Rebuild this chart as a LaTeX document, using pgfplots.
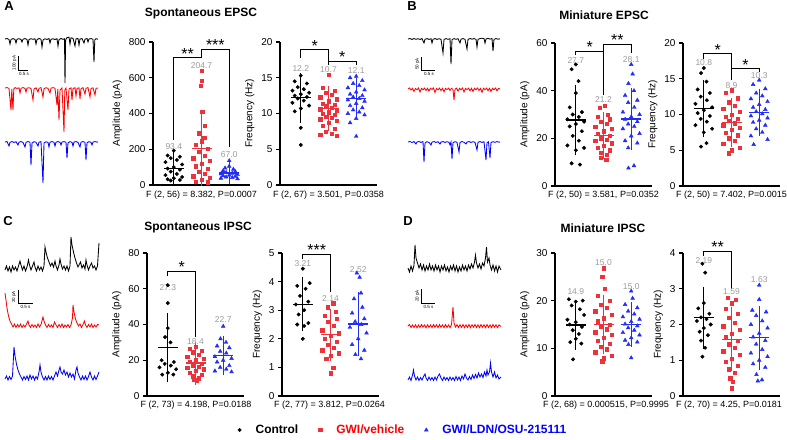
\documentclass[border=0pt]{standalone}
\usepackage{pgfplots}
\pgfplotsset{compat=1.18}
\usepackage{fontspec}
\setmainfont{Liberation Sans}

\definecolor{vehc}{RGB}{237,50,60}
\definecolor{osuc}{RGB}{35,45,250}
\definecolor{lbl}{RGB}{155,155,155}

\pgfplotsset{
  prism/.style={
    scale only axis, width=97pt, height=143pt,
    axis x line*=bottom, axis y line*=left,
    axis line style={-, line width=1.1pt},
    xmin=0.25, xmax=3.75, xtick=\empty, ymin=0,
    tick align=outside, major tick length=4pt,
    every tick/.style={black, line width=1.1pt},
    tick label style={font=\fontsize{10}{12}\selectfont, inner ysep=1pt},
    label style={font=\fontsize{10}{12}\selectfont},
    /pgf/number format/assume math mode=true,
    clip=false,
  },
  ctl/.style={only marks, mark=*, mark size=1.75pt, black},
  veh/.style={only marks, mark=square*, mark size=1.65pt, vehc},
  osu/.style={only marks, mark=triangle*, mark size=2.2pt, osuc},
  msd/.style={mark=-, mark size=10pt, mark options={line width=1.3pt},
    error bars/y dir=both, error bars/y explicit,
    error bars/error mark=-,
    error bars/error mark options={mark size=6.5pt, line width=1.3pt},
    error bars/error bar style={line width=1.3pt}},
  brk/.style={black, line width=1.1pt, no marks},
  trace/.style={line width=0.85pt, no marks},
}
\tikzset{
  star/.style={font=\fontsize{16}{16}\selectfont, inner sep=0pt,
    text depth=-0.4em, anchor=south, yshift=-1.5pt},
  mlab/.style={text=lbl, font=\fontsize{8.5}{9}\selectfont, inner sep=0pt},
}
\newcommand{\msd}[4]{\addplot[#1, msd] coordinates {(#2,#3) +- (0,#4)};}

\begin{document}
\begin{tikzpicture}
\path (0pt,0pt) rectangle (787pt,437pt);

% ---------- traces, titles, captions (pixel frame) ----------
\begin{axis}[at={(0pt,0pt)}, anchor=south west, scale only axis,
  width=787pt, height=437pt, xmin=0, xmax=787, ymin=0, ymax=437,
  y dir=reverse, hide axis, clip=false]
% A
\addplot[trace, black] coordinates {(5,39)(7,38.5)(9,39.5)(10,44)(11,39.5)(13,38.6)(15,39.4)(16,43)(17,39.2)(19,38.7)(21,39.5)(22,42)(23,39.2)(25,38.6)(27,39.4)(28,45)(29,39.5)(31,38.7)(33,39.3)(35,38.8)(36,44)(37,39.6)(39,38.5)(41,39.2)(42,47)(43,40)(45,38.8)(47,39.4)(49,38.6)(50,43)(51,39.3)(53,38.8)(55,39.5)(57,38.7)(58,46)(59,39.6)(61,38.5)(63,39.3)(64.5,38.8)(65,83)(65.6,40)(67,37.6)(69,37.2)(70,44)(71,37.8)(73,38.3)(75,46)(76,38.8)(78,38.5)(79,45)(80,39)(82,38.6)(84,43)(85,39.2)(87,38.5)(88,42)(89,39)(91,38.6)(93,39.3)(94,62)(94.8,39.8)(96,38.7)(98,39.2)};
\addplot[trace, red] coordinates {(5,88)(7,87.5)(9,88.5)(11,110)(11.8,89)(13,110)(13.8,89)(15,87.6)(17,88.4)(19,87.8)(20,93)(21,88.3)(23,87.6)(25,88.4)(26,92)(27,88.2)(29,87.7)(31,88.5)(33,100)(34,89)(36,87.8)(38,92)(39,88.3)(41,87.6)(43,97)(44,88.8)(46,87.7)(48,88.4)(50,93)(51,88.2)(53,87.6)(55,88.3)(57,105)(57.8,89)(59,120)(60,90)(62,88)(64,132)(64.8,90)(66,88)(68,110)(69,89)(71,87.8)(72,100)(73,88.5)(75,87.7)(76,96)(77,88.4)(79,87.8)(80,99)(81,88.6)(83,87.7)(85,94)(86,88.3)(88,87.6)(90,97)(91,88.5)(93,87.8)(95,95)(96,88.3)(98,88)};
\addplot[trace, blue] coordinates {(5,142)(7,141.5)(9,146)(10,142.3)(12,141.6)(14,142.4)(16,141.7)(18,145)(19,142.2)(21,141.6)(23,142.4)(25,147)(26,142.3)(28,141.6)(30,142.2)(31,165)(32,143)(34,141.7)(36,142.3)(38,146)(39,142.2)(41,141.6)(43,183)(44,143)(46,141.8)(48,142.4)(49,147)(50,142.2)(52,141.6)(54,142.3)(55,146)(56,142.2)(58,141.6)(60,142.4)(61,145)(62,142.1)(64,141.6)(66,142.3)(67,158)(68,142.8)(70,141.7)(72,142.3)(73,146)(74,142.1)(76,141.6)(78,142.4)(80,147)(81,142.2)(83,141.6)(85,142.3)(86,160)(87,142.8)(89,141.7)(91,142.3)(92,145)(93,142.1)(95,141.6)(98,142.2)};
\addplot[trace, black, line width=0.7pt] coordinates {(18,56)(18,70)(28,70)};
% B
\addplot[trace, black] coordinates {(408,39)(410,38.5)(412,39.4)(414,38.6)(416,39.3)(418,38.7)(420,39.4)(422,38.6)(424,43)(425,39.3)(427,38.6)(429,39.4)(431,38.7)(432,43)(433,39.3)(435,38.6)(437,39.4)(439,38.7)(441,39.3)(443,53)(444,39.5)(446,38.6)(448,39.3)(450,38.7)(451,64)(452,39.6)(454,38.6)(456,39.3)(458,38.7)(460,43)(461,39.2)(463,38.6)(465,39.3)(467,49)(468,39.4)(470,38.5)(472,39.2)(474,38.6)(476,39.3)(477,47)(478,39.3)(480,38.6)(482,38.2)(484,38.6)(485,43)(486,39.0)(488,38.4)(490,39.1)(492,38.5)(493,51)(494,39.3)(496,38.6)(498,39.2)(500,38.8)};
\addplot[trace, red] coordinates {(408,89)(409.5,88)(411,90)(412.5,88.3)(414,91.5)(415.5,88.5)(417,89.8)(418.5,88)(420,92)(421.5,88.4)(423,89.7)(424.5,88.1)(426,90.5)(427.5,88.3)(429,91)(430.5,88.2)(432,89.6)(433.5,88)(435,92.5)(436.5,88.5)(438,89.8)(439.5,88.1)(441,90.6)(442.5,88.3)(444,91.8)(445.5,88.4)(447,89.6)(448.5,88.1)(450,90.4)(451.5,88.3)(453,89.5)(454,100)(455,89.2)(456.5,88.1)(458,91.2)(459.5,88.4)(461,89.7)(462.5,88)(464,92)(465.5,88.4)(467,89.6)(468.5,88.1)(470,90.8)(471.5,88.3)(473,91.5)(474.5,88.3)(476,89.7)(477.5,88)(479,90.5)(480.5,88.4)(482,92.3)(483.5,88.3)(485,89.6)(486.5,88.1)(488,90.7)(489.5,88.3)(491,91.4)(492.5,88.3)(494,89.7)(495.5,88)(497,90.8)(498.5,88.4)(500,89)};
\addplot[trace, blue] coordinates {(408,142)(410,141.5)(412,142.5)(414,141.6)(416,144)(417,142)(419,141.5)(421,142.4)(423,141.6)(424,162)(425,143)(427,141.7)(429,142.4)(431,145)(432,142.1)(434,141.6)(436,142.4)(438,141.7)(440,144)(441,142.1)(443,141.6)(445,142.4)(447,141.7)(449,142.3)(450,145)(451,142)(452,159)(453,142.6)(455,141.7)(457,142.3)(459,152)(460,142.4)(462,141.6)(464,142.3)(466,144)(467,142.1)(469,141.6)(471,142.4)(473,141.7)(475,142.3)(477,150)(478,142.2)(480,141.6)(482,142.4)(484,141.7)(486,160)(487,142.6)(488.5,141.8)(490,158)(491,142.5)(493,141.7)(495,142.3)(497,141.6)(499,142.2)(500,142)};
\addplot[trace, black, line width=0.7pt] coordinates {(421.7,57)(421.7,70)(435,70)};
% C
\addplot[trace, black] coordinates {(5,270)(6.5,266)(8,271)(9.5,267)(11,272)(12.5,266)(14,270)(15.5,267)(17,271)(18.5,266)(20,261)(21,265)(22.5,270)(24,266)(25.5,271)(27,267)(28.5,260)(29.5,265)(31,270)(32.5,266)(34,262)(35,267)(36.5,271)(38,266)(39.5,270)(41,267)(42.5,271)(44,266)(45,247)(46,252)(47.5,258)(49,262)(50.5,266)(52,263)(53.5,267)(55,261)(56,266)(57.5,270)(59,265)(60,259)(61,264)(62.5,269)(64,266)(65.5,270)(67,266)(68.5,271)(70,266)(71,237)(72,245)(73.5,252)(75,258)(76.5,263)(78,267)(79.5,264)(80.5,262)(82,268)(83.5,265)(85,269)(86,260)(87,265)(88.5,270)(90,266)(91.5,263)(93,268)(94.5,266)(96,270)(97.5,266)(99,243)};
\addplot[trace, red] coordinates {(5,293)(6,300)(7,308)(8.5,316)(10,321)(11.5,324)(13,327)(14.5,324)(16,327.5)(17.5,324.5)(19,327)(20.5,324)(22,327.5)(23.5,325)(25,327)(26.5,324)(28,321)(29,325)(30.5,327.5)(32,324.5)(33.5,327)(35,325)(36.5,327.5)(38,324)(39.5,327)(41,324.5)(43,317)(44,321)(45.5,325)(47,327.5)(48.5,324.5)(50,327)(51.5,325)(53,327.5)(54.5,322)(56,325)(57.5,327.5)(59,324.5)(60.5,327)(62,324)(63.5,327.5)(65,325)(66.5,327)(68,324.5)(69.5,327.5)(71,325)(72.5,318)(73,305)(74,312)(75.5,319)(77,323)(78.5,326)(80,324)(81.5,327.5)(83,324.5)(84.5,321)(85.5,325)(87,327.5)(88.5,324.5)(90,327)(91.5,324)(93,327.5)(94.5,325)(96,327)(97.5,324.5)(99,325)};
\addplot[trace, blue] coordinates {(5,379)(6.5,376)(8,380)(9.5,376.5)(11,379.5)(12.5,376)(14,347)(15,356)(16.5,364)(18,370)(19.5,374)(21,377)(22.5,380)(24,376.5)(25.5,379.5)(27,376)(28.5,380)(30,375)(31.5,379)(33,376)(34.5,380)(36,376.5)(37.5,379)(39,372)(40,365)(41,372)(42.5,377)(44,380)(45.5,376.5)(47,380)(48.5,376)(50,379.5)(51.5,376.5)(53,380)(54.5,376)(56,372)(57.5,376)(59,370)(60,367)(61,372)(62.5,374)(64,370)(65.5,375)(67,372)(68.5,377)(70,373)(71.5,377)(73,374)(74.5,379)(76,370)(77,367)(78,373)(79.5,377)(81,380)(82.5,376)(84,379.5)(85.5,376)(87,380)(88.5,376.5)(90,372)(91.5,377)(93,380)(94.5,376)(96,379.5)(97.5,376)(99,372)};
\addplot[trace, black, line width=0.7pt] coordinates {(18.3,290)(18.3,303.3)(32.7,303.3)};
% D
\addplot[trace, black] coordinates {(408,268)(409.5,272)(411,266)(412.5,271)(414,265)(415,245)(416,258)(417.5,263)(419,268)(420.5,264)(422,270)(423.5,265)(425,271)(426.5,266)(428,270)(429.5,264)(431,270)(432.5,266)(434,271)(435.5,265)(437,270)(438.5,266)(440,272)(441.5,266)(443,270)(444.5,265)(446,271)(447.5,267)(449,272)(450.5,266)(452,270)(453.5,265)(455,271)(456.5,266)(458,272)(459.5,267)(461,271)(462.5,265)(464,270)(465.5,266)(467,271)(468.5,265)(470,269)(471.5,264)(473,268)(474.5,262)(475.5,255)(476.5,263)(478,268)(479.5,264)(481,269)(482.5,263)(484,266)(485.5,258)(486.5,247)(487.5,262)(489,258)(490,265)(491.5,270)(493,265)(494.5,271)(496,266)(497.5,272)(499,266)(501,270)};
\addplot[trace, red] coordinates {(408,326)(409.5,324.5)(411,327.5)(412.5,325)(414,327.5)(415.5,324.8)(417,327.8)(418.5,325)(420,327.5)(421.5,324.6)(423,327)(424.5,325)(426,327.8)(427.5,324.7)(429,327.4)(430.5,324.9)(432,327.6)(433.5,324.5)(435,327.3)(436.5,324.8)(438,327.7)(439.5,324.6)(441,327.2)(442.5,324.9)(444,327.6)(445.5,324.5)(447,327.4)(448.5,325)(450,327.6)(451.5,324.6)(453,307)(454,323)(455.5,327)(457,324.7)(458.5,327.5)(460,324.8)(461.5,327.3)(463,324.5)(464.5,327.6)(466,324.9)(467.5,327.4)(469,324.6)(470.5,327.7)(472,324.8)(473.5,327.2)(475,324.5)(476.5,327.5)(478,324.9)(479.5,327.6)(481,324.6)(482.5,327.3)(484,324.8)(485.5,327.7)(487,324.5)(488.5,327.4)(490,324.9)(491.5,327.6)(493,324.6)(494.5,327.3)(496,324.8)(497.5,327.6)(499,324.9)(501,326.5)};
\addplot[trace, blue] coordinates {(408,380)(409.5,377)(411,380.5)(412.5,375)(413.5,370)(414.5,376)(416,380)(417.5,377)(419,380.5)(420.5,377.5)(422,380)(423.5,376.5)(425,374)(426,378)(427.5,380.5)(429,377)(430.5,380)(432,377.5)(433.5,380.5)(435,377)(436.5,380)(438,376)(439.5,374)(441,378)(442.5,380.5)(444,377)(445.5,380)(447,377.5)(448.5,380.5)(450,377)(451.5,380)(453,377.5)(454.5,380.5)(456,376.5)(457.5,380)(459,377)(460.5,380.5)(462,376)(463.5,379)(465,374)(466.5,378)(468,380)(469.5,376.5)(471,379.5)(472.5,375)(474,378.5)(475.5,374.5)(477,378)(478.5,373)(480,377)(481.5,374)(483,377.5)(484.5,372)(486,376)(487,370)(488,375)(489.5,372)(490.5,363)(491.5,372)(493,377)(494.5,372)(496,378)(497.5,375)(499,379)(501,377)};
\addplot[trace, black, line width=0.7pt] coordinates {(421.7,289.3)(421.7,303.3)(435,303.3)};
% scale-bar labels
\begin{scope}[every node/.style={font=\fontsize{4.5}{5}\selectfont, inner sep=0pt}]
\node[rotate=90] at (axis cs:14.5,63) {100 pA};
\node at (axis cs:24,73.5) {0.5 s};
\node[rotate=90] at (axis cs:417.5,64) {50 pA};
\node at (axis cs:429,73.5) {0.5 s};
\node[rotate=90] at (axis cs:14,297) {20 pA};
\node at (axis cs:25.5,306.8) {0.5 s};
\node[rotate=90] at (axis cs:417.5,296) {20 pA};
\node at (axis cs:428.5,306.8) {0.5 s};
\end{scope}
% panel letters and titles
\begin{scope}[every node/.style={font=\bfseries\fontsize{13}{13}\selectfont, inner sep=0pt}]
\node at (axis cs:9,6) {A};
\node at (axis cs:412,6) {B};
\node at (axis cs:8,221) {C};
\node at (axis cs:408,221) {D};
\end{scope}
\begin{scope}[every node/.style={font=\bfseries\fontsize{12}{12}\selectfont, inner sep=0pt}]
\node at (axis cs:201,14) {Spontaneous EPSC};
\node at (axis cs:604,15) {Miniature EPSC};
\node at (axis cs:198,228) {Spontaneous IPSC};
\node at (axis cs:603,228) {Miniature IPSC};
\end{scope}
\begin{scope}[every node/.style={font=\fontsize{9}{10}\selectfont, inner sep=0pt}]
\node at (axis cs:201.5,195) {F (2, 56) = 8.382, P=0.0007};
\node at (axis cs:328.5,195) {F (2, 67) = 3.501, P=0.0358};
\node at (axis cs:603.5,195) {F (2, 50) = 3.581, P=0.0352};
\node at (axis cs:731.5,195) {F (2, 50) = 7.402, P=0.0015};
\node at (axis cs:196,405.5) {F (2, 73) = 4.198, P=0.0188};
\node at (axis cs:329.5,405.5) {F (2, 77) = 3.812, P=0.0264};
\node at (axis cs:606,405.5) {F (2, 68) = 0.000515, P=0.9995};
\node at (axis cs:729,405.5) {F (2, 70) = 4.25, P=0.0181};
\end{scope}
\end{axis}

% ---------- A: amplitude ----------
\begin{axis}[prism, at={(153pt,252pt)}, anchor=south west,
  ymax=800, ytick={0,200,400,600,800}, ylabel={Amplitude (pA)}]
\addplot[ctl] coordinates {(1,192)(0.78,165)(1.22,158)(0.89,150)(1.11,140)(0.7,128)(1.3,115)(1,100)(0.78,92)(1.22,85)(0.89,75)(1.11,62)(0.7,55)(1.3,45)(1,38)(0.78,32)(1.22,28)(0.89,25)};
\addplot[veh] coordinates {(2,640)(2,585)(1.98,555)(2.02,410)(2.11,330)(1.9,290)(2.1,265)(2,245)(1.78,225)(2.22,205)(1.89,185)(2.11,165)(1.7,150)(2.3,135)(2,120)(1.78,105)(2.22,90)(1.89,75)(2.11,62)(1.7,50)(2.3,40)(2,30)(1.78,20)(2.22,15)};
\addplot[osu] coordinates {(3,136)(3,105)(2.85,95)(3.15,88)(2.78,80)(3.22,75)(2.89,70)(3.11,66)(2.7,62)(3.3,58)(3,55)(2.78,52)(3.22,48)(2.89,45)(3.11,42)(2.7,38)(3.3,35)};
\msd{black}{1}{93.4}{55}
\msd{vehc}{2}{204.7}{175}
\msd{osuc}{3}{67.0}{23}
\addplot[brk] coordinates {(1,249)(1,712)(2,712)};
\addplot[brk] coordinates {(2,712)(2,757)(3,757)(3,211)};
\node[star] at (axis cs:1.5,712) {**};
\node[star] at (axis cs:2.5,757) {***};
\node[mlab] at (axis cs:1,217) {93.4};
\node[mlab] at (axis cs:2,669) {204.7};
\node[mlab] at (axis cs:3,170) {67.0};
\end{axis}

% ---------- A: frequency ----------
\begin{axis}[prism, at={(280pt,252pt)}, anchor=south west,
  ymax=20, ytick={0,5,10,15,20}, ylabel={Frequency (Hz)}]
\addplot[ctl] coordinates {(1,15.3)(0.78,14.5)(1.22,14.2)(0.89,13.7)(1.11,13.4)(0.7,13.2)(1.3,12.9)(1,12.7)(0.78,12.5)(1.22,12.3)(0.89,12.1)(1.11,11.8)(0.7,11.5)(1.3,11.1)(1,10.7)(0.78,10.3)(1,8.0)(1,5.6)};
\addplot[veh] coordinates {(2,15.4)(1.78,13.6)(2.22,13.2)(1.89,12.9)(2.11,12.6)(1.7,12.3)(2.3,12.0)(2,11.7)(1.78,11.4)(2.22,11.2)(1.89,11.0)(2.11,10.8)(1.7,10.6)(2.3,10.4)(2,10.2)(1.78,10.0)(2.22,9.8)(1.89,9.6)(2.11,9.4)(1.7,9.2)(2.3,9.0)(2,8.7)(1.78,8.3)(2.22,7.9)(1.89,7.5)(2.11,7.2)(1.7,7.0)(2.3,6.9)};
\addplot[osu] coordinates {(3,15.2)(2.78,15.0)(3.22,14.6)(2.89,14.2)(3.11,13.9)(2.7,13.6)(3.3,13.3)(3,13.0)(2.78,12.7)(3.22,12.5)(2.89,12.3)(3.11,12.1)(2.7,11.9)(3.3,11.7)(3,11.4)(2.78,11.1)(3.22,10.8)(2.89,10.5)(3.11,10.2)(2.7,10.0)(3.3,9.8)(3,9.3)(2.78,8.7)(3,6.8)};
\msd{black}{1}{12.2}{2.55}
\msd{vehc}{2}{10.7}{2.2}
\msd{osuc}{3}{12.1}{2.0}
\addplot[brk] coordinates {(1,17.7)(1,18.9)(2,18.9)(2,17.3)};
\addplot[brk] coordinates {(2,16.8)(2,17.3)(3,17.3)(3,16.8)};
\node[star] at (axis cs:1.5,18.9) {*};
\node[star] at (axis cs:2.5,17.3) {*};
\node[mlab] at (axis cs:1,16.3) {12.2};
\node[mlab] at (axis cs:2,16.15) {10.7};
\node[mlab] at (axis cs:3,16.05) {12.1};
\end{axis}

% ---------- B: amplitude ----------
\begin{axis}[prism, at={(555pt,251pt)}, anchor=south west,
  ymax=60, ytick={0,20,40,60}, ylabel={Amplitude (pA)}]
\addplot[ctl] coordinates {(1,51)(0.85,49)(1.1,44)(1,39)(0.78,33)(1.22,31)(0.89,30)(1.11,29)(0.7,28)(1.3,27)(1,26)(0.78,25)(1.22,23)(0.89,21)(1.11,19)(0.7,17)(1.3,16)(1,15)(0.85,9.5)(1.15,9)};
\addplot[veh] coordinates {(2.05,33.8)(1.85,32.8)(2.15,30)(1.78,29)(2.22,28)(1.89,27)(2.11,26)(1.7,25)(2.3,24)(2,23)(1.78,22)(2.22,21)(1.89,20)(2.11,19.5)(1.7,19)(2.3,18)(2,17)(1.78,16)(2.22,15)(1.89,14)(2.11,13)(1.9,12)(2.1,11)};
\addplot[osu] coordinates {(3,51)(3.05,47)(2.9,43)(3.1,40)(2.78,38)(3.22,36)(2.89,35)(3.11,33)(2.7,31)(3.3,30)(3,29)(2.78,28)(3.22,27)(2.89,26)(3.11,25)(2.7,24)(3.3,22)(3,21)(2.78,19)(3.22,18)(2.89,16)(3.1,8.5)(2.9,7.5)};
\msd{black}{1}{27.7}{12.1}
\msd{vehc}{2}{21.2}{7.0}
\msd{osuc}{3}{28.1}{10.1}
\addplot[brk] coordinates {(1,54.8)(1,56.6)(2,56.6)};
\addplot[brk] coordinates {(2,38)(2,59.4)(3,59.4)(3,55.9)};
\node[star] at (axis cs:1.5,56.6) {*};
\node[star] at (axis cs:2.5,59.4) {**};
\node[mlab] at (axis cs:1,52.7) {27.7};
\node[mlab] at (axis cs:2,36.2) {21.2};
\node[mlab] at (axis cs:3,53) {28.1};
\end{axis}

% ---------- B: frequency ----------
\begin{axis}[prism, at={(683pt,251pt)}, anchor=south west,
  ymax=20, ytick={0,5,10,15,20}, ylabel={Frequency (Hz)}]
\addplot[ctl] coordinates {(1,16.5)(0.9,15.8)(1.1,14.6)(0.78,13.5)(1.22,13.0)(0.89,12.5)(1.11,12.0)(0.7,11.5)(1.3,11.0)(1,10.6)(0.78,10.2)(1.22,9.8)(0.89,9.4)(1.11,9.0)(0.7,8.5)(1.3,8.0)(1,7.5)(1.1,6.0)(0.9,5.5)};
\addplot[veh] coordinates {(2,13.4)(1.78,13.0)(2.22,12.3)(1.89,11.7)(2.11,11.2)(1.7,10.8)(2.3,10.4)(2,10.0)(1.78,9.7)(2.22,9.4)(1.89,9.1)(2.11,8.8)(1.7,8.5)(2.3,8.2)(2,7.9)(1.78,7.5)(2.22,7.1)(1.89,6.7)(2.11,6.3)(1.7,5.9)(2.3,5.4)(2,5.0)(1.9,4.6)};
\addplot[osu] coordinates {(3,14.8)(2.78,14.2)(3.22,13.6)(2.89,13.0)(3.11,12.6)(2.7,12.2)(3.3,11.8)(3,11.4)(2.78,11.0)(3.22,10.7)(2.89,10.4)(3.11,10.1)(2.7,9.8)(3.3,9.5)(3,9.2)(2.78,8.9)(3.22,8.5)(2.89,8.0)(3.11,7.5)(2.7,7.0)(3.3,6.5)(2.8,5.8)};
\msd{black}{1}{10.8}{3.05}
\msd{vehc}{2}{8.9}{2.5}
\msd{osuc}{3}{10.3}{2.4}
\addplot[brk] coordinates {(1,17.8)(1,18.5)(2,18.5)(2,14.8)};
\addplot[brk] coordinates {(2,16.4)(3,16.4)(3,16.0)};
\node[star] at (axis cs:1.5,18.5) {*};
\node[star] at (axis cs:2.5,16.4) {*};
\node[mlab] at (axis cs:1,17.2) {10.8};
\node[mlab] at (axis cs:2,14.1) {8.9};
\node[mlab] at (axis cs:3,15.4) {10.3};
\end{axis}

% ---------- C: amplitude ----------
\begin{axis}[prism, at={(147pt,41pt)}, anchor=south west,
  ymax=80, ytick={0,20,40,60,80}, ylabel={Amplitude (pA)}]
\addplot[ctl] coordinates {(1,62)(1,52)(1,38)(0.9,33)(1.1,30)(0.78,20)(1.22,19)(0.89,18)(1.11,17)(0.7,16)(1.3,15)(1,13)(0.8,12)(1.2,12)};
\addplot[veh] coordinates {(2,27.5)(1.78,26.5)(2.22,25.5)(1.89,24.5)(2.11,23)(1.7,22)(2.3,21)(2,20)(1.78,19)(2.22,18)(1.89,17)(2.11,16.5)(1.7,16)(2.3,15)(2,14)(1.78,13)(2.22,12)(1.89,11)(2.11,10)(1.95,9)(2.05,8.5)};
\addplot[osu] coordinates {(3,39)(2.9,32)(3.1,30)(2.78,28)(3.22,27)(2.89,25)(3.11,24)(2.7,22)(3.3,21)(3,20)(2.78,19)(3.22,17)(2.89,16)(3.11,15)(2.7,14)(3.3,13.5)};
\msd{black}{1}{27.3}{15.6}
\msd{vehc}{2}{18.4}{8.4}
\msd{osuc}{3}{22.7}{7.5}
\addplot[brk] coordinates {(1,67)(1,69.8)(2,69.8)(2,32.8)};
\node[star] at (axis cs:1.5,69.8) {*};
\node[mlab] at (axis cs:1,60.6) {27.3};
\node[mlab] at (axis cs:2,30.4) {18.4};
\node[mlab] at (axis cs:3,42.6) {22.7};
\end{axis}

% ---------- C: frequency ----------
\begin{axis}[prism, at={(282pt,41pt)}, anchor=south west,
  ymax=5, ytick={0,1,2,3,4,5}, ylabel={Frequency (Hz)}]
\addplot[ctl] coordinates {(1,4.45)(1.25,3.95)(0.8,3.85)(1.1,3.75)(0.9,3.5)(1.2,3.3)(0.75,3.2)(1.05,3.0)(0.85,2.85)(1.2,2.55)(0.8,2.5)(1.05,2.45)(1,2.0)};
\addplot[veh] coordinates {(2.1,3.25)(1.9,3.1)(2.2,2.95)(1.78,2.8)(2.22,2.7)(1.89,2.6)(2.11,2.45)(1.7,2.3)(2.3,2.2)(2,2.1)(1.78,2.0)(2.22,1.9)(1.89,1.8)(2.11,1.7)(1.7,1.6)(2.3,1.5)(2,1.4)(1.85,1.3)(2.1,1.0)(2,0.8)};
\addplot[osu] coordinates {(2.95,4.3)(3.05,4.15)(3.1,3.6)(2.85,3.4)(3.15,3.1)(2.78,2.9)(3.22,2.7)(2.89,2.6)(3.11,2.5)(2.7,2.4)(3.3,2.2)(3,2.0)(2.78,1.8)(3.22,1.6)(2.9,1.45)(3.1,1.3)};
\msd{black}{1}{3.21}{0.72}
\msd{vehc}{2}{2.14}{0.68}
\msd{osuc}{3}{2.52}{0.89}
\addplot[brk] coordinates {(1,4.8)(1,4.95)(2,4.95)(2,3.65)};
\node[star] at (axis cs:1.5,4.95) {***};
\node[mlab] at (axis cs:1,4.62) {3.21};
\node[mlab] at (axis cs:2,3.41) {2.14};
\node[mlab] at (axis cs:3,4.42) {2.52};
\end{axis}

% ---------- D: amplitude ----------
\begin{axis}[prism, at={(555pt,41pt)}, anchor=south west,
  ymax=30, ytick={0,10,20,30}, ylabel={Amplitude (pA)}]
\addplot[ctl] coordinates {(0.75,20.3)(1.25,20.0)(1,19.8)(0.85,19.0)(1.15,18.2)(1.3,17.0)(0.7,16.0)(1,15.5)(0.78,15.0)(1.22,14.5)(0.89,13.8)(1.11,13.0)(1,12.0)(0.8,11.3)(1.2,11.0)(0.9,7.7)};
\addplot[veh] coordinates {(2,26.8)(1.95,25.0)(2.05,22.5)(1.78,21.0)(2.22,20.0)(1.89,19.2)(2.11,18.5)(1.7,17.8)(2.3,17.0)(2,16.3)(1.78,15.7)(2.22,15.0)(1.89,14.5)(2.11,14.0)(1.7,13.4)(2.3,12.8)(2,12.2)(1.78,11.6)(2.22,11.0)(1.89,10.4)(2.11,9.8)(1.7,9.2)(2.3,8.5)(2,7.9)(1.95,7.3)};
\addplot[osu] coordinates {(3,22)(3.05,20.5)(2.78,19.2)(3.22,18.5)(2.89,17.8)(3.11,17.2)(2.7,16.6)(3.3,16.1)(3,15.6)(2.78,15.1)(3.22,14.7)(2.89,14.3)(3.11,13.8)(2.7,13.3)(3.3,12.8)(3,12.2)(2.78,11.7)(3.22,11.3)(2.9,10.8)(3,8.0)};
\msd{black}{1}{14.9}{3.8}
\msd{vehc}{2}{15.0}{4.9}
\msd{osuc}{3}{15.0}{3.3}
\node[mlab] at (axis cs:1,21.9) {14.9};
\node[mlab] at (axis cs:2,27.9) {15.0};
\node[mlab] at (axis cs:3,22.9) {15.0};
\end{axis}

% ---------- D: frequency ----------
\begin{axis}[prism, at={(683pt,41pt)}, anchor=south west,
  ymax=4, ytick={0,1,2,3,4}, ylabel={Frequency (Hz)}]
\addplot[ctl] coordinates {(0.95,3.7)(1.05,3.45)(1,2.6)(0.8,2.45)(1.2,2.3)(0.9,2.2)(1.1,2.15)(0.75,2.1)(1.25,2.0)(1,1.9)(0.85,1.8)(1.15,1.7)(0.9,1.55)(1.05,1.35)(0.95,1.1)};
\addplot[veh] coordinates {(1.85,2.75)(2.15,2.7)(2,2.6)(1.78,2.45)(2.22,2.3)(1.89,2.2)(2.11,2.05)(1.7,1.95)(2.3,1.85)(2,1.75)(1.78,1.65)(2.22,1.55)(1.89,1.45)(2.11,1.35)(1.7,1.25)(2.3,1.15)(2,1.05)(1.78,0.95)(2.22,0.85)(1.89,0.75)(2.11,0.65)(1.95,0.5)(2.05,0.4)(2,0.22)};
\addplot[osu] coordinates {(3,3.1)(3,2.7)(2.75,2.4)(3.25,2.35)(2.89,2.25)(3.11,2.1)(2.7,2.0)(3.3,1.9)(3,1.75)(2.78,1.65)(3.22,1.55)(2.89,1.45)(3.11,1.3)(2.7,1.2)(3.3,1.1)(3,1.0)(2.78,0.9)(3.22,0.8)(2.9,0.6)(3.1,0.45)(2.95,0.42)};
\msd{black}{1}{2.19}{0.69}
\msd{vehc}{2}{1.59}{0.72}
\msd{osuc}{3}{1.63}{0.71}
\addplot[brk] coordinates {(1,3.93)(1,4.05)(2,4.05)(2,3.0)};
\node[star] at (axis cs:1.5,4.05) {**};
\node[mlab] at (axis cs:1,3.8) {2.19};
\node[mlab] at (axis cs:2,2.91) {1.59};
\node[mlab] at (axis cs:3,3.26) {1.63};
\end{axis}

% ---------- legend ----------
\begin{axis}[at={(402pt,7pt)}, anchor=center, scale only axis,
  width=1pt, height=1pt, xmin=0, xmax=1, ymin=0, ymax=1, hide axis,
  legend columns=3,
  legend image code/.code={\path[draw=none, fill=none] (0pt,-2pt) rectangle (18pt,2pt);
    \draw[#1] plot coordinates {(4pt,0pt)};},
  legend style={at={(0.5,0.5)}, anchor=center, draw=none, fill=none,
    font=\bfseries\fontsize{12}{12}\selectfont,
    /tikz/every even column/.append style={column sep=16pt}}]
\addlegendimage{ctl}
\addlegendentry{Control}
\addlegendimage{veh}
\addlegendentry{\textcolor{red}{GWI/vehicle}}
\addlegendimage{osu}
\addlegendentry{\textcolor{blue}{GWI/LDN/OSU-215111}}
\end{axis}
\end{tikzpicture}
\end{document}
